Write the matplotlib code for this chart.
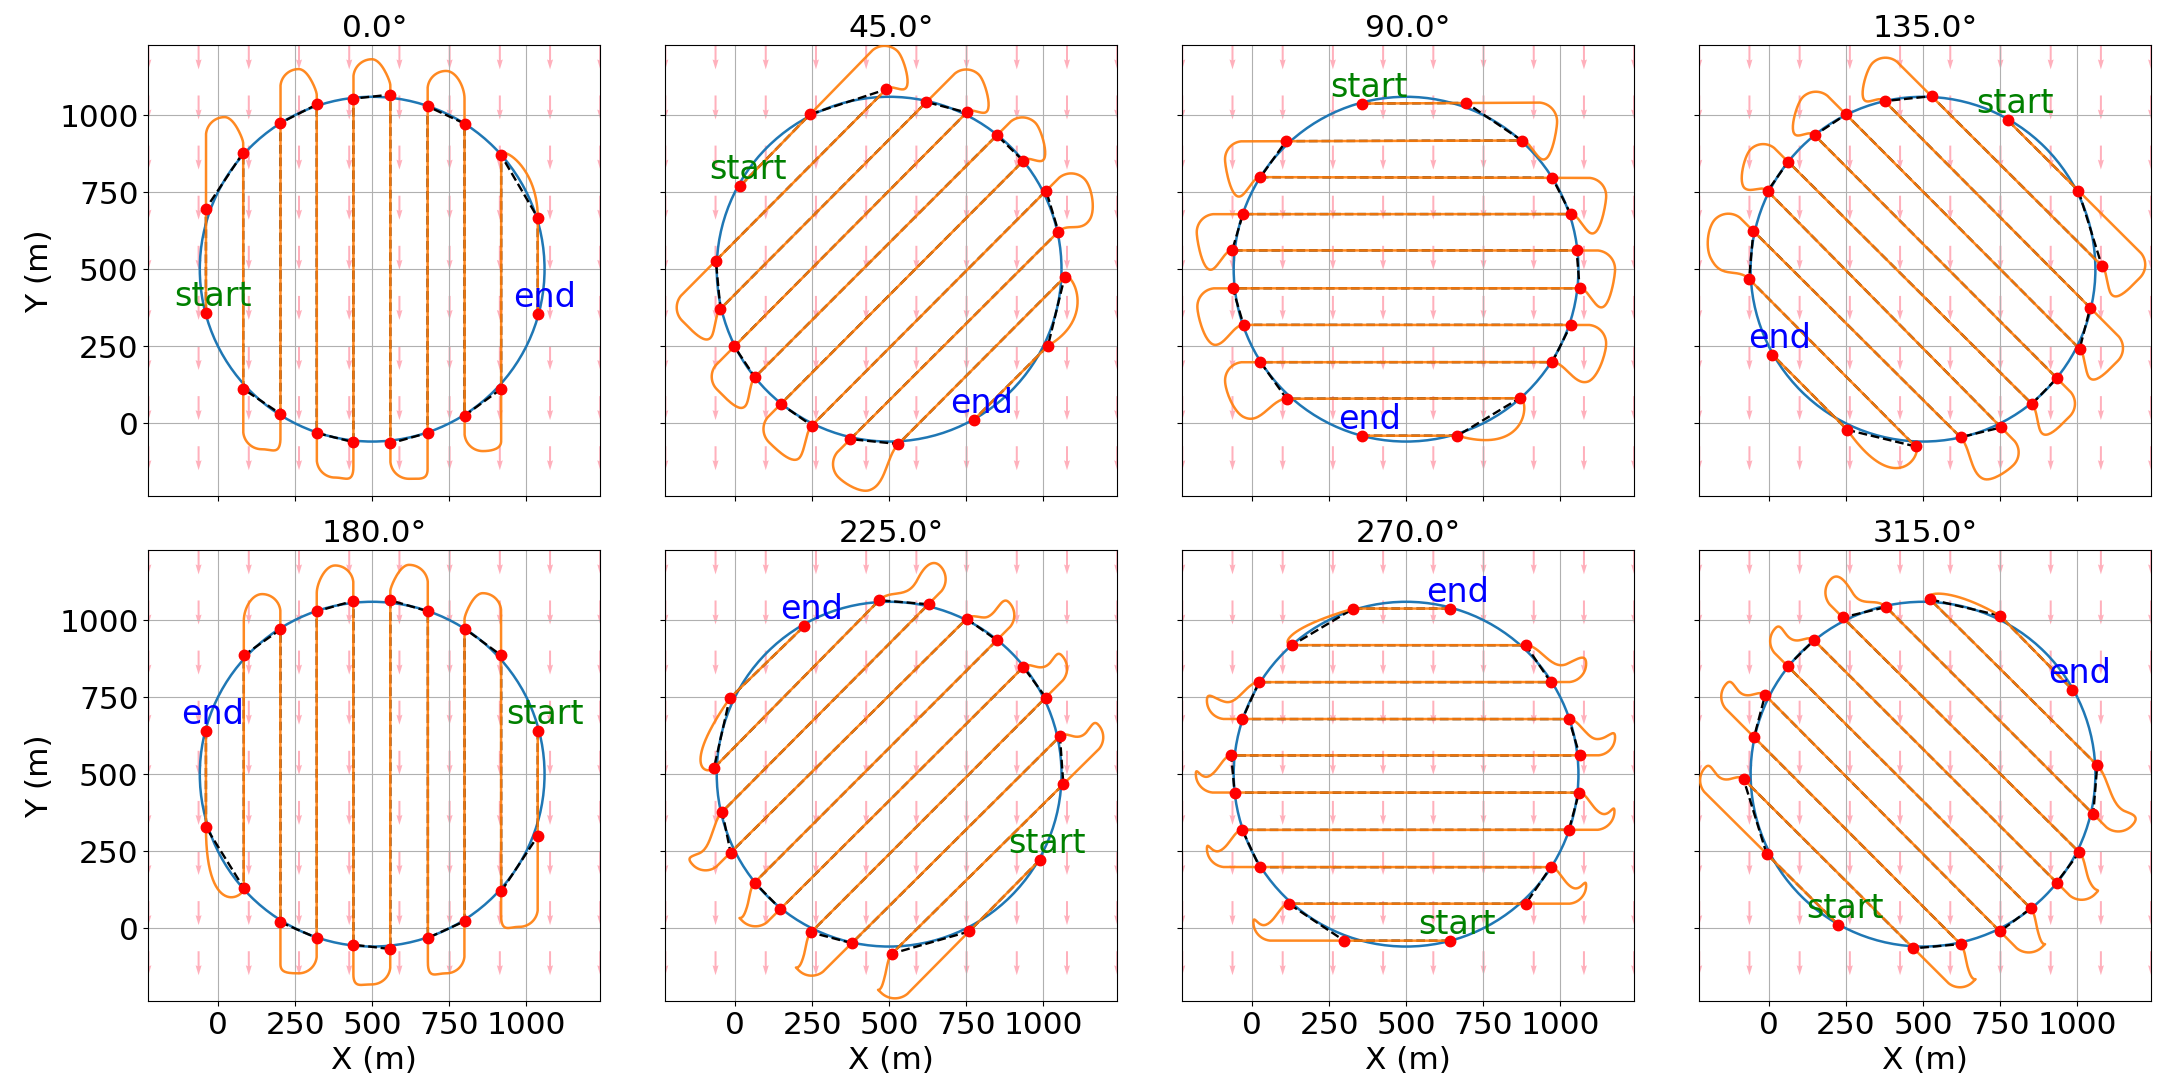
import numpy as np
import matplotlib.pyplot as plt
from matplotlib.patches import Circle

# sweep headings (deg, clockwise from north)
angles = [0.0, 45.0, 90.0, 135.0, 180.0, 225.0, 270.0, 315.0]

# waypoints, in flight order (start ... end)
wp_x_0 = [-40, -40, 81, 81, 202, 202, 320, 320, 439, 439, 559, 559, 680, 680, 800, 800, 919, 919, 1038, 1038]
wp_y_0 = [357, 697, 879, 111, 30, 975, 1035, -32, -62, 1054, 1067, -66, -32, 1029, 973, 24, 111, 870, 667, 354]

wp_x_45 = [17, 243, 490, -63, -48, 621, 752, -3, 64, 850, 936, 148, 249, 1010, 1050, 374, 530, 1070, 1016, 776]
wp_y_45 = [771, 1003, 1084, 528, 371, 1043, 1009, 249, 149, 935, 852, 62, -8, 755, 622, -52, -68, 474, 251, 11]

wp_x_90 = [357, 696, 876, 110, 27, 975, 1035, -30, -65, 1054, 1064, -63, -28, 1035, 975, 27, 112, 869, 667, 357]
wp_y_90 = [1038, 1040, 918, 916, 799, 797, 679, 679, 561, 561, 438, 438, 319, 319, 198, 198, 79, 81, -41, -41]

wp_x_135 = [775, 1005, 1081, 528, 375, 1043, 1009, 250, 148, 935, 854, 62, -5, 754, 622, -51, -65, 476, 254, 11]
wp_y_135 = [984, 755, 511, 1062, 1046, 375, 241, 1003, 935, 146, 62, 849, 754, -14, -46, 624, 468, -76, -22, 222]

wp_x_180 = [1038, 1038, 919, 919, 800, 800, 681, 681, 559, 559, 439, 439, 320, 320, 202, 202, 83, 83, -40, -40]
wp_y_180 = [641, 299, 119, 886, 973, 22, -32, 1029, 1065, -68, -54, 1063, 1029, -32, 19, 970, 886, 130, 328, 641]

wp_x_225 = [990, 760, 509, 1066, 1055, 379, 246, 1009, 936, 147, 63, 850, 752, -15, -42, 628, 468, -69, -18, 225]
wp_y_225 = [222, -11, -83, 467, 623, -49, -14, 749, 848, 62, 148, 935, 1005, 245, 378, 1052, 1065, 520, 746, 982]

wp_x_270 = [643, 299, 119, 889, 970, 24, -32, 1029, 1062, -57, -68, 1064, 1029, -32, 22, 970, 889, 130, 329, 643]
wp_y_270 = [-41, -41, 79, 79, 198, 198, 319, 319, 440, 440, 561, 561, 679, 679, 799, 799, 919, 919, 1038, 1038]

wp_x_315 = [224, -8, -83, 469, 622, -49, -13, 750, 850, 60, 146, 934, 1008, 239, 380, 1053, 1066, 523, 750, 985]
wp_y_315 = [11, 241, 484, -66, -52, 620, 757, -11, 64, 851, 935, 148, 246, 1009, 1043, 370, 529, 1068, 1015, 775]

waypoints_x = [wp_x_0, wp_x_45, wp_x_90, wp_x_135, wp_x_180, wp_x_225, wp_x_270, wp_x_315]
waypoints_y = [wp_y_0, wp_y_45, wp_y_90, wp_y_135, wp_y_180, wp_y_225, wp_y_270, wp_y_315]

area_center = (500, 500)
area_radius = 560
xlim = (-227, 1241)
ylim = (-238, 1227)
ticks = [0, 250, 500, 750, 1000]
wind = np.array([0.0, -1.0])
push_side, push_along = 65, 30


def hook(p, q, d):
    # short hook when the next entry lies well behind the exit
    sp, sq = p @ d, q @ d
    top = sp + 15
    t = np.linspace(0, 1, 90)
    a = (1 - t) ** 3 * sp + t ** 3 * sq
    b = 3 * t * (1 - t)
    lo, hi = top - 300, top + 400
    for _ in range(40):
        c = (lo + hi) / 2
        if (a + b * c).max() > top:
            hi = c
        else:
            lo = c
    b1 = p + (c - sp) * d
    b2 = q + (c - sq) * d
    T = t[:, None]
    pts = (1 - T) ** 3 * p + 3 * (1 - T) ** 2 * T * b1 + 3 * (1 - T) * T ** 2 * b2 + T ** 3 * q
    f = 27 / 4 * t ** 2 * (1 - t)
    return pts + 30 * f[:, None] * wind


def turn(p, q, d):
    # hairpin from exit p (heading d) to entry q of the next line, skewed by wind
    sp, sq = p @ d, q @ d
    if sp - sq > 150:
        return hook(p, q, d)
    n = (q - p) - ((q - p) @ d) * d
    h = np.linalg.norm(n)
    n = n / h
    top = max(sp, sq) + 115
    sc = top - h / 2
    leg1 = p + np.linspace(0, sc - sp, 40)[:, None] * d
    a = leg1[-1]
    phi = np.linspace(0, np.pi, 61)[:, None]
    cap = a + h / 2 * n + h / 2 * (-np.cos(phi) * n + np.sin(phi) * d)
    leg2 = cap[-1] + np.linspace(0, sq - sc, 30)[:, None] * d
    pts = np.vstack([leg1, cap[1:], leg2[1:]])
    seg = np.linalg.norm(np.diff(pts, axis=0), axis=1)
    s = np.concatenate([[0], np.cumsum(seg)])
    u = s / s[-1]
    ua = (sc - sp + np.pi * h / 4) / s[-1]
    g = np.where(u > ua, np.sin(np.pi * (u - ua) / (1 - ua)) ** 2, 0.0)
    push = push_side * (wind @ n) * n + push_along * (wind @ d) * d
    return pts + g[:, None] * push


def flown_path(wx, wy):
    w = np.column_stack([wx, wy]).astype(float)
    segs = []
    for i in range(0, len(w), 2):
        segs.append(w[i:i + 2])
        if i + 2 < len(w):
            d = w[i + 1] - w[i]
            d = d / np.linalg.norm(d)
            segs.append(turn(w[i + 1], w[i + 2], d))
    return np.vstack(segs)


fig, axes = plt.subplots(2, 4, sharex=True, sharey=True, figsize=(21.63, 10.9), dpi=100)
fig.subplots_adjust(left=0.0686, right=0.9945, top=0.9587, bottom=0.081, wspace=0.144, hspace=0.118)

qx, qy = np.meshgrid(np.linspace(xlim[0], xlim[1], 10), np.linspace(ylim[0], ylim[1], 10))
qu = np.zeros_like(qx)
qv = -np.ones_like(qy)

for ax, ang, wx, wy in zip(axes.flat, angles, waypoints_x, waypoints_y):
    ax.quiver(qx, qy, qu, qv, color='#ffb0bc', units='xy', angles='xy',
              scale_units='xy', scale=1 / 78, width=6.5, headwidth=3,
              headlength=5, headaxislength=4.5, zorder=1)
    ax.add_patch(Circle(area_center, area_radius, fill=False, edgecolor='C0', lw=1.8, zorder=2))
    ax.plot(wx, wy, 'k--', lw=1.7, zorder=3)
    path = flown_path(wx, wy)
    ax.plot(path[:, 0], path[:, 1], color='C1', lw=1.8, alpha=0.92, zorder=4)
    ax.plot(wx, wy, 'o', color='red', ms=7.5, zorder=5)
    ax.text(wx[0] + 23, wy[0], 'start', color='green', fontsize=24, ha='center', va='bottom', zorder=6)
    ax.text(wx[-1] + 23, wy[-1], 'end', color='blue', fontsize=24, ha='center', va='bottom', zorder=6)
    ax.set_title(f'{ang}°', fontsize=22.5)
    ax.set_xticks(ticks)
    ax.set_yticks(ticks)
    ax.tick_params(labelsize=22.5)
    ax.grid(True)
    ax.set_xlim(*xlim)
    ax.set_ylim(*ylim)
    ax.set_aspect('equal')

for ax in axes[1]:
    ax.set_xlabel('X (m)', fontsize=22.5)
for ax in axes[:, 0]:
    ax.set_ylabel('Y (m)', fontsize=22.5)

fig.savefig('out.png')
